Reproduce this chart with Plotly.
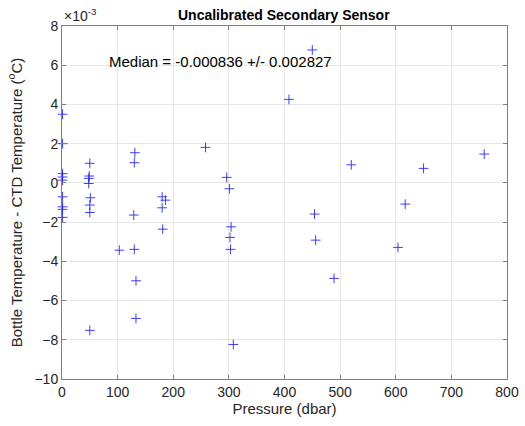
import plotly.graph_objects as go

# pressure (dbar) and bottle - CTD temperature difference (x1e-3 degC)
pressure = [1, 1, 1, 1, 1, 1, 1, 1, 1,
            50, 49, 48, 48, 51, 50, 50, 50,
            103,
            131, 130, 129, 130, 133, 133,
            180, 186, 180, 181,
            258,
            296, 301, 304, 302, 303, 308,
            408, 450, 454, 456, 489, 520, 604, 617, 650, 759]
temp_diff = [3.5, 2.0, 0.47, 0.30, 0.14, -0.71, -1.22, -1.35, -1.76,
             1.0, 0.35, 0.23, -0.03, -0.76, -1.13, -1.51, -7.52,
             -3.43,
             1.54, 1.03, -1.64, -3.39, -4.99, -6.91,
             -0.71, -0.88, -1.27, -2.36,
             1.81,
             0.28, -0.30, -2.24, -2.78, -3.39, -8.24,
             4.26, 6.78, -1.59, -2.92, -4.87, 0.92, -3.29, -1.08, 0.74, 1.47]

median_text = "Median = -0.000836 +/- 0.002827"

axcol = "#262626"
font = "Liberation Sans, Arial, sans-serif"

fig = go.Figure(go.Scatter(
    x=pressure, y=temp_diff, mode="markers",
    marker=dict(symbol="cross-thin", size=7, line=dict(color="rgba(30,30,255,0.85)", width=1)),
    showlegend=False, cliponaxis=False))

axis_common = dict(showline=True, linecolor="#7f7f7f", linewidth=1, mirror="ticks",
                   ticks="inside", ticklen=4, tickcolor="#7f7f7f",
                   showgrid=True, gridcolor="#e6e6e6", zeroline=False, automargin=False,
                   tickfont=dict(family=font, size=14, color=axcol))

fig.update_layout(
    width=525, height=426,
    margin=dict(l=62, r=18, t=26, b=47),
    paper_bgcolor="white", plot_bgcolor="white",
    title=dict(text="<b>Uncalibrated Secondary Sensor</b>", x=0.5406, xanchor="center",
               y=0.965, yanchor="middle", font=dict(family=font, size=14, color="black")),
    xaxis=dict(range=[0, 800], dtick=100,
               title=dict(text="Pressure (dbar)", font=dict(family=font, size=15, color=axcol), standoff=4),
               **axis_common),
    yaxis=dict(range=[-10, 8], dtick=2,
               title=dict(text="Bottle Temperature - CTD Temperature (<sup>o</sup>C)",
                          font=dict(family=font, size=15, color=axcol), standoff=8),
               **axis_common),
    annotations=[
        dict(text="×10<sup>-3</sup>", xref="paper", yref="paper", x=0, y=1, xanchor="left",
             yanchor="bottom", showarrow=False, font=dict(family=font, size=14, color=axcol)),
        dict(text=median_text, x=80, y=6.2, xanchor="left", yanchor="middle", showarrow=False,
             font=dict(family=font, size=15, color="black")),
    ],
)

# drop the default 8px page margin so the figure fills the window
fig.write_html("out.html", config={"displayModeBar": False},
               post_script="document.body.style.margin='0px';")
